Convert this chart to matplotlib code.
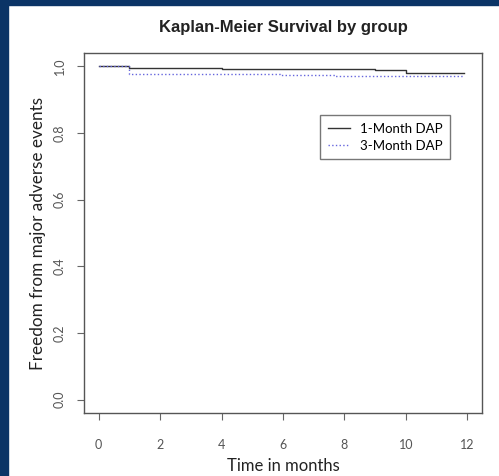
import matplotlib
matplotlib.use('Agg')
import matplotlib.pyplot as plt
from matplotlib.patches import Rectangle

# Kaplan-Meier step data
t_1m = [0, 1.0, 4.0, 9.0, 10.0, 11.9]
s_1m = [1.0, 0.994, 0.991, 0.988, 0.981, 0.981]
t_3m = [0, 1.0, 5.9, 7.7, 11.4, 11.9]
s_3m = [1.0, 0.977, 0.974, 0.971, 0.970, 0.970]
group_names = ['1-Month DAP', '3-Month DAP']
x_ticks = [0, 2, 4, 6, 8, 10, 12]
y_ticks = [0.0, 0.2, 0.4, 0.6, 0.8, 1.0]

navy = '#0b3466'
tick_col = '#555555'

fig = plt.figure(figsize=(4.99, 4.76), dpi=100)
fig.patch.set_facecolor('white')
# navy frame on left and top
fig.patches.append(Rectangle((0, 0), 8 / 499, 1, transform=fig.transFigure,
                             color=navy, zorder=0))
fig.patches.append(Rectangle((0, 1 - 5 / 476), 1, 5 / 476, transform=fig.transFigure,
                             color=navy, zorder=0))

ax = fig.add_axes([84 / 499, 63 / 476, 398 / 499, 360 / 476])
ax.step(t_1m, s_1m, where='post', color='#333333', lw=1.0, label=group_names[0])
ax.step(t_3m, s_3m, where='post', color='#6666dd', lw=1.0, ls=':', label=group_names[1])

ax.set_xlim(-0.48, 12.48)
ax.set_ylim(-0.04, 1.04)
ax.set_xticks(x_ticks)
ax.set_yticks(y_ticks)
ax.set_xticklabels([str(v) for v in x_ticks], fontsize=9, color=tick_col, family='Lato')
ax.set_yticklabels(['%.1f' % v for v in y_ticks], fontsize=9, color=tick_col,
                   family='Lato', rotation=90, va='center')
ax.tick_params(axis='x', length=5, pad=14, color='#666666')
ax.tick_params(axis='y', length=5, pad=8, color='#666666')
for sp in ax.spines.values():
    sp.set_color('#555555')
    sp.set_linewidth(1.0)

ax.set_title('Kaplan-Meier Survival by group', fontsize=12, fontweight='bold',
             family='Liberation Sans', pad=15, color='#222222')
ax.set_xlabel('Time in months', fontsize=12, family='Lato', labelpad=5, color='#222222')
ax.set_ylabel('Freedom from major adverse events', fontsize=12.3, family='Lato',
              labelpad=6, color='#222222')

leg = ax.legend(loc='upper left', bbox_to_anchor=(320 / 499, 1 - 115 / 476),
                bbox_transform=fig.transFigure, fancybox=False, frameon=True,
                prop={'family': 'Lato', 'size': 9.5}, handlelength=1.7,
                borderpad=0.6, labelspacing=0.35, handletextpad=0.7,
                borderaxespad=0)
leg.get_frame().set_edgecolor('#555555')
leg.get_frame().set_linewidth(1.0)

fig.savefig('out.png', dpi=100)
